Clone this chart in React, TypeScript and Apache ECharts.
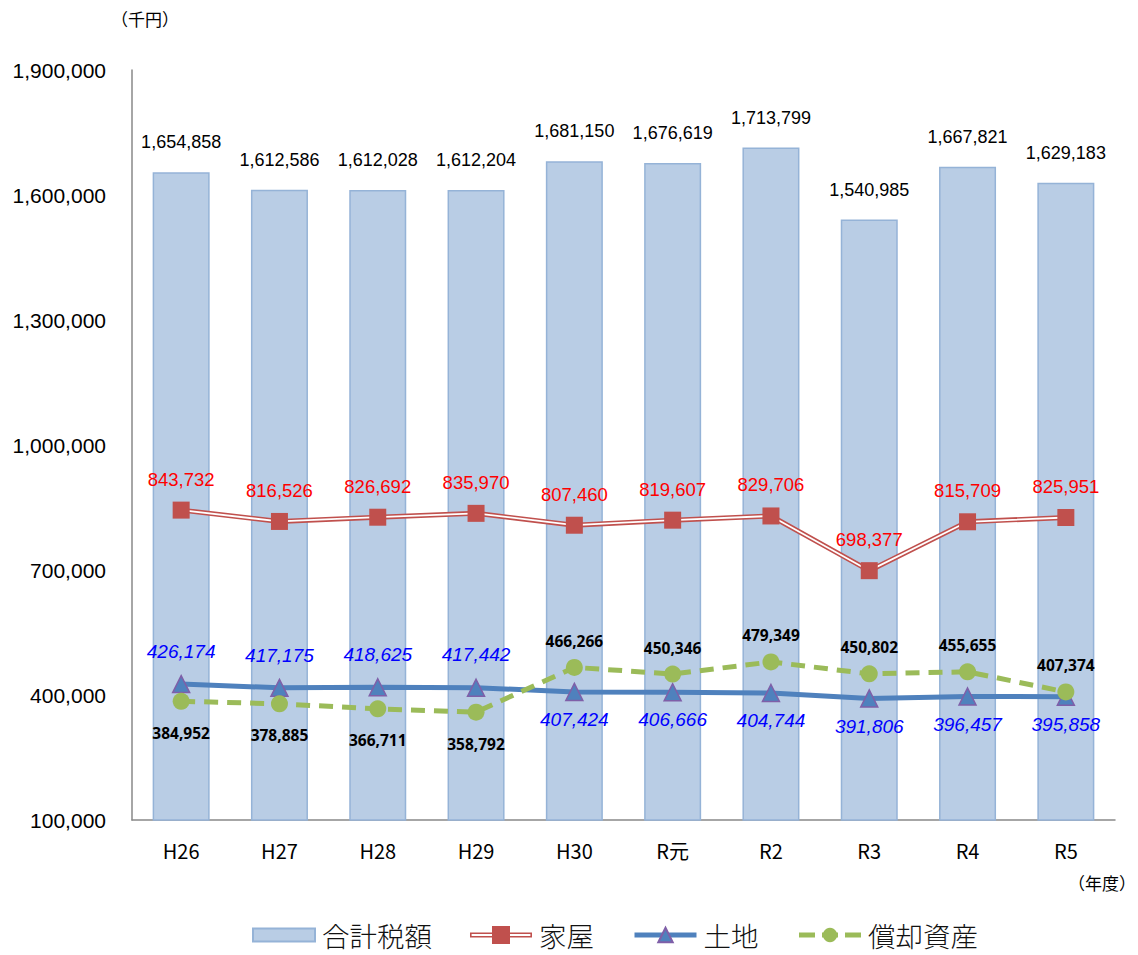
import React, { useEffect, useRef } from "react";
import * as echarts from "echarts";

const categories = ["H26", "H27", "H28", "H29", "H30", "R元", "R2", "R3", "R4", "R5"];
const totalTax = [1654858, 1612586, 1612028, 1612204, 1681150, 1676619, 1713799, 1540985, 1667821, 1629183];
const kaoku = [843732, 816526, 826692, 835970, 807460, 819607, 829706, 698377, 815709, 825951];
const tochi = [426174, 417175, 418625, 417442, 407424, 406666, 404744, 391806, 396457, 395858];
const shokyaku = [384952, 378885, 366711, 358792, 466266, 450346, 479349, 450802, 455655, 407374];
const yMin = 100000;
const yMax = 1900000;
const yInterval = 300000;

const fmt = (v: number) => v.toLocaleString("en-US");

export default function App() {
  const ref = useRef<HTMLDivElement>(null);
  useEffect(() => {
    if (!ref.current) return;
    const chart = echarts.init(ref.current, null, { renderer: "svg" });
    const barIcon = "path://M0,0h62v13h-62z";
    const kaokuIcon =
      "path://M0,6.5h62v1.6h-62z M0,9.9h62v1.6h-62z M0,6.5h1.6v5h-1.6z M60.4,6.5h1.6v5h-1.6z M22,0h18v18h-18z";
    const option: any = {
      animation: false,
      backgroundColor: "#ffffff",
      grid: { left: 132, right: 23, top: 70, bottom: 135, containLabel: false },
      legend: {
        top: 920,
        left: 252,
        padding: 0,
        itemGap: 38,
        itemWidth: 62,
        itemHeight: 18,
        textStyle: {
          fontSize: 27.5,
          lineHeight: 30,
          color: "#111",
          fontFamily: "Noto Sans CJK JP",
          fontWeight: 300,
          padding: [0, 0, 0, 2],
        },
        data: [
          { name: "合計税額", icon: barIcon },
          { name: "家屋", icon: kaokuIcon },
          { name: "土地", lineStyle: { width: 5 } },
          { name: "償却資産", lineStyle: { width: 5, type: [16, 7] } },
        ],
      },
      graphic: [
        {
          type: "text",
          x: 145,
          y: 18,
          style: {
            text: "（千円）",
            fontSize: 17,
            fill: "#000",
            fontFamily: "Noto Sans CJK JP",
            align: "center",
            verticalAlign: "middle",
          },
        },
        {
          type: "text",
          x: 1102,
          y: 882,
          style: {
            text: "（年度）",
            fontSize: 17,
            fill: "#000",
            fontFamily: "Noto Sans CJK JP",
            align: "center",
            verticalAlign: "middle",
          },
        },
      ],
      xAxis: {
        type: "category",
        data: categories,
        axisLine: { show: true, lineStyle: { color: "#898989", width: 1.5 } },
        axisTick: { show: false },
        axisLabel: { margin: 20, fontSize: 20, color: "#000", fontFamily: "Noto Sans CJK JP" },
        splitLine: { show: false },
      },
      yAxis: {
        type: "value",
        min: yMin,
        max: yMax,
        interval: yInterval,
        axisLine: { show: true, lineStyle: { color: "#898989", width: 1.5 } },
        axisTick: { show: false },
        splitLine: { show: false },
        axisLabel: {
          margin: 26,
          fontSize: 21,
          color: "#000",
          fontFamily: "Liberation Sans",
          formatter: (v: number) => fmt(v),
        },
      },
      series: [
        {
          name: "合計税額",
          type: "bar",
          data: totalTax,
          barWidth: 57,
          itemStyle: { color: "#B9CDE5", borderColor: "#95B3D7", borderWidth: 1.5 },
          label: {
            show: true,
            position: "top",
            distance: 21,
            fontSize: 18,
            color: "#000",
            fontFamily: "Liberation Sans",
            formatter: (p: any) => fmt(p.value),
          },
          z: 1,
        },
        {
          name: "家屋_outer",
          type: "line",
          data: kaoku,
          symbol: "none",
          lineStyle: { color: "#C0504D", width: 5 },
          z: 3,
        },
        {
          name: "家屋_inner",
          type: "line",
          data: kaoku,
          symbol: "none",
          lineStyle: { color: "#ffffff", width: 1.8 },
          z: 4,
        },
        {
          name: "家屋",
          type: "line",
          data: kaoku,
          symbol: "rect",
          symbolSize: 17,
          itemStyle: { color: "#C0504D" },
          lineStyle: { width: 0, opacity: 0 },
          label: {
            show: true,
            position: "top",
            distance: 13,
            fontSize: 18.5,
            color: "#FF0000",
            fontFamily: "Liberation Sans",
            formatter: (p: any) => fmt(p.value),
          },
          z: 5,
        },
        {
          name: "土地",
          type: "line",
          data: tochi.map((v, i) => ({
            value: v,
            label: { position: i < 4 ? "top" : "bottom", distance: i < 4 ? 14 : 9 },
          })),
          symbol: "triangle",
          symbolSize: 17,
          itemStyle: { color: "#4F81BD", borderColor: "#7F5FA8", borderWidth: 1.5 },
          lineStyle: { color: "#4F81BD", width: 5 },
          label: {
            show: true,
            fontSize: 19,
            fontStyle: "italic",
            color: "#0000FF",
            fontFamily: "Liberation Sans",
            formatter: (p: any) => fmt(p.value),
          },
          z: 6,
        },
        {
          name: "償却資産",
          type: "line",
          data: shokyaku.map((v, i) => ({
            value: v,
            label: { position: i < 4 ? "bottom" : "top", distance: i < 4 ? 15 : 10 },
          })),
          symbol: "circle",
          symbolSize: 17,
          itemStyle: { color: "#9BBB59" },
          lineStyle: { color: "#9BBB59", width: 5, type: [14, 9] },
          label: {
            show: true,
            fontSize: 15.5,
            fontWeight: "bold",
            color: "#000",
            fontFamily: "Noto Sans",
            formatter: (p: any) => fmt(p.value),
          },
          z: 7,
        },
      ],
    };
    chart.setOption(option);
    return () => chart.dispose();
  }, []);
  return (
    <div
      ref={ref}
      style={{ position: "absolute", left: 0, top: 0, width: 1138, height: 955 }}
    />
  );
}
